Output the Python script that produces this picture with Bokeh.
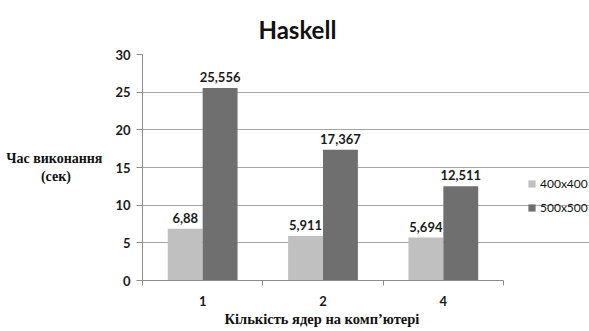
import numpy as np
from bokeh.plotting import figure
from bokeh.core.properties import value
from bokeh.models import (ColumnDataSource, FixedTicker, LabelSet,
                          Legend, LegendItem, Title)
from bokeh.embed import file_html
from bokeh.resources import INLINE

# Execution time (seconds) for two matrix sizes by number of cores
cores = ["1", "2", "4"]
series_names = ["400x400", "500x500"]
time_400 = [6.88, 5.911, 5.694]
time_500 = [25.556, 17.367, 12.511]
y_ticks = [0, 5, 10, 15, 20, 25, 30]

colors = ["#c0c0c0", "#6f6f6f"]
bar_w = 0.29
n = len(cores)
y_max = 30

centers = np.arange(n) + 0.5


def fmt(v):
    return f"{v:g}".replace(".", ",")


# The plotting frame reaches the right edge of the page so that the legend
# can sit inside it; the x axis and the grid are bounded to the three groups.
W, H = 589, 331
left, top, bottom = 142, 54, 51
frame_w = W - left
px_per_x = 361 / n

p = figure(width=W, height=H,
           x_range=(0, frame_w / px_per_x), y_range=(0, y_max),
           output_backend="svg", toolbar_location=None,
           min_border_left=left, min_border_right=0,
           min_border_top=top, min_border_bottom=bottom)
p.outline_line_color = None
p.background_fill_color = "white"
p.border_fill_color = "white"

renderers = []
for i, (vals, col) in enumerate(zip([time_400, time_500], colors)):
    xs = centers + (i - 0.5) * bar_w
    src = ColumnDataSource(dict(x=xs, top=vals, txt=[fmt(v) for v in vals]))
    r = p.vbar(x="x", top="top", width=bar_w, source=src,
               fill_color=col, line_color=None)
    renderers.append(r)
    p.add_layout(LabelSet(x="x", y="top", text="txt", source=src,
                          text_align="center", text_baseline="bottom",
                          y_offset=6, text_font=value("Lato"),
                          text_font_style="bold",
                          text_font_size="13px", text_color="#1a1a1a"))

# y axis; its title is horizontal, the second line padded to sit centred
p.yaxis.ticker = FixedTicker(ticks=y_ticks)
p.yaxis.major_tick_in = 0
p.yaxis.major_tick_out = 6
p.yaxis.minor_tick_line_color = None
p.yaxis.axis_line_color = "#8c8c8c"
p.yaxis.major_tick_line_color = "#8c8c8c"
p.yaxis.major_label_standoff = 6
p.yaxis.major_label_text_font = "Lato"
p.yaxis.major_label_text_font_style = "bold"
p.yaxis.major_label_text_font_size = "13px"
p.yaxis.major_label_text_color = "#1a1a1a"
p.yaxis.axis_label = "Час виконання\n(сек)" + "\u00a0" * 9
p.yaxis.axis_label_orientation = "horizontal"
p.yaxis.axis_label_standoff = 10
p.yaxis.axis_label_text_font = "Liberation Serif"
p.yaxis.axis_label_text_font_style = "bold"
p.yaxis.axis_label_text_font_size = "14px"
p.yaxis.axis_label_text_color = "#111111"
p.yaxis.axis_label_text_line_height = 1.15

# x axis: labels under group centres, small ticks between groups
p.xaxis.bounds = (0, n)
p.xaxis.ticker = FixedTicker(ticks=list(centers),
                             minor_ticks=list(np.arange(n + 1)))
p.xaxis.major_label_overrides = {float(c): lab for c, lab in zip(centers, cores)}
p.xaxis.major_tick_line_color = None
p.xaxis.minor_tick_in = 0
p.xaxis.minor_tick_out = 5
p.xaxis.minor_tick_line_color = "#8c8c8c"
p.xaxis.axis_line_color = "#8c8c8c"
p.xaxis.major_label_standoff = 9
p.xaxis.major_label_text_font = "Lato"
p.xaxis.major_label_text_font_style = "bold"
p.xaxis.major_label_text_font_size = "13px"
p.xaxis.major_label_text_color = "#1a1a1a"

p.xgrid.grid_line_color = None
p.ygrid.grid_line_color = "#a6a6a6"
p.ygrid.grid_line_width = 1
p.ygrid.bounds = (0, n)
p.ygrid.ticker = FixedTicker(ticks=y_ticks)

# chart title above, x axis title below, both placed under the bar groups
p.title = Title(text="Haskell", align="left", offset=116, standoff=18,
                vertical_align="top",
                text_font="Lato", text_font_style="bold",
                text_font_size="24px", text_color="#111111")
p.add_layout(Title(text="Кількість ядер на комп’ютері", align="left",
                   offset=82, standoff=0, text_font="Liberation Serif",
                   text_font_style="bold", text_font_size="14.5px",
                   text_color="#111111"), "below")

legend = Legend(items=[LegendItem(label=s, renderers=[r])
                       for s, r in zip(series_names, renderers)],
                location=(385, 65), padding=0, margin=0, spacing=9,
                glyph_width=9, glyph_height=9, label_height=12,
                label_standoff=4, border_line_color=None,
                background_fill_alpha=0, label_text_font="Lato",
                label_text_font_size="12px", label_text_color="#111111")
p.add_layout(legend)

open("out.html", "w").write(file_html(p, INLINE))
